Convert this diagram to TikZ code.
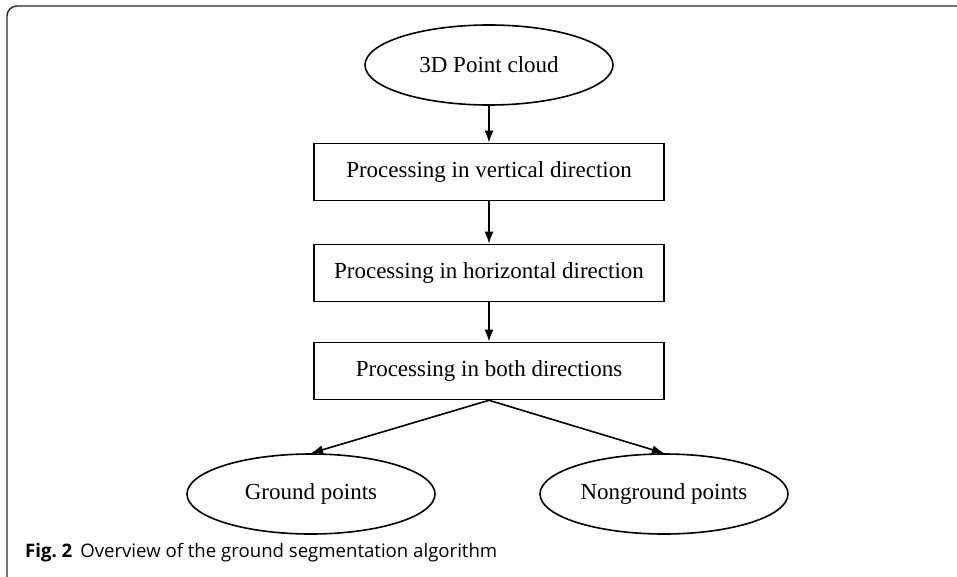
\documentclass[tikz,border=0pt]{standalone}
\usepackage{fontspec}
\setmainfont{Liberation Serif}
\newfontfamily\captionfont{Open Sans}
\usetikzlibrary{shapes.geometric}
\usetikzlibrary{arrows.meta}
\newcommand*{\boxfont}{\fontsize{23}{27}\selectfont}

\begin{document}
\begin{tikzpicture}[x=1pt, y=-1pt,
   procbox/.style = {draw, line width=1.6pt, minimum width=350pt,
                     minimum height=57pt, inner sep=0pt, font=\boxfont},
   endpoint/.style = {draw, ellipse, line width=1.6pt, minimum width=248pt,
                      minimum height=80pt, inner sep=0pt, font=\boxfont},
   flow/.style = {line width=1.6pt, -{Latex[length=12pt, width=9pt]}}]

   \useasboundingbox (0,0) rectangle (957,577);

   % frame of the figure
   \draw [line width=1.4pt, rounded corners=10pt, black!85] (7,6) rectangle (980,588);

   \node [endpoint] (cloud) at (489,65) {3D Point cloud};
   \node [procbox] (vert) at (489,172) {Processing in vertical direction};
   \node [procbox] (horiz) at (489,273) {Processing in horizontal direction};
   \node [procbox] (both) at (489,371) {Processing in both directions};

   \node [endpoint] (ground) at (311,494) {Ground points};
   \node [endpoint] (nonground) at (664,494) {Nonground points};

   \draw [flow] (cloud) -- (vert);
   \draw [flow] (vert) -- (horiz);
   \draw [flow] (horiz) -- (both);
   \draw [flow] (both.south) -- (ground.north);
   \draw [flow] (both.south) -- (nonground.north);

   % caption
   \node [anchor=base west, inner sep=0pt,
          font=\captionfont\fontsize{18.6}{22}\selectfont] (caption) at (25,557)
      {\textbf{Fig.~2}\hspace{8pt}Overview of the ground segmentation algorithm};

\end{tikzpicture}
\end{document}
